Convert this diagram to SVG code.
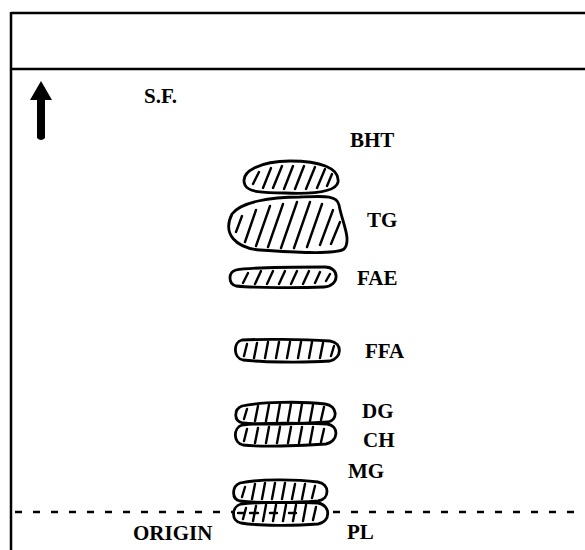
<svg xmlns="http://www.w3.org/2000/svg" width="585" height="550" viewBox="0 0 585 550">
  <style>
    .frame { stroke: #000; stroke-width: 2.5; fill: none; }
    .spot { stroke: #000; stroke-width: 2.8; fill: none; stroke-linejoin: round; }
    .hatch { stroke: #000; stroke-width: 2.4; fill: none; stroke-linecap: round; }
    .lbl { font-family: "Liberation Serif", "Times New Roman", serif; font-weight: bold; font-size: 21px; fill: #000; }
    .origin { stroke: #000; stroke-width: 2.5; stroke-dasharray: 7 11; fill: none; }
  </style>

  <!-- plate frame -->
  <g id="frame">
    <line class="frame" x1="11" y1="13" x2="585" y2="13"/>
    <line class="frame" x1="11" y1="69" x2="585" y2="69"/>
    <line class="frame" x1="11" y1="12" x2="11" y2="550"/>
  </g>

  <!-- solvent front direction -->
  <g id="solvent-front">
    <path d="M41 81 L52 100 L45 100 L45 138 Q41 142 37 138 L37 100 L30 100 Z" fill="#000"/>
    <text class="lbl" x="144" y="103">S.F.</text>
  </g>

  <!-- origin line -->
  <g id="connectors">
    <line class="origin" x1="15" y1="512" x2="233" y2="512"/>
    <line class="origin" x1="333" y1="512" x2="585" y2="512"/>
  </g>

  <g id="BHT">
    <path class="spot" d="M245 185 C239 171 262 161 290 161 C320 161 340 168 338 182 C336 193 310 194 285 193 C263 193 248 192 245 185 Z"/>
    <path class="hatch" d="M253 184 L259 172 M263 188 L271 168 M273 188 L282 166 M284 189 L293 166 M295 189 L304 166 M306 189 L315 167 M317 188 L325 169 M327 186 L332 174"/>
    <text class="lbl" x="350" y="147">BHT</text>
  </g>

  <g id="TG">
    <path class="spot" d="M232 214 C241 202 270 197 300 197 C325 196 337 195 339 205 C342 222 352 240 344 249 C335 255 290 252 260 250 C236 248 222 234 232 214 Z"/>
    <path class="hatch" d="M236 232 L242 216 M245 242 L256 210 M256 246 L270 206 M268 247 L283 204 M281 248 L297 202 M294 248 L310 202 M307 247 L322 204 M320 245 L333 210 M331 244 L340 222"/>
    <text class="lbl" x="367" y="227">TG</text>
  </g>

  <g id="FAE">
    <path class="spot" d="M236 270 C250 267 300 267 325 267 C340 267 340 286 324 287 C300 288 255 288 236 286 C228 284 228 272 236 270 Z"/>
    <path class="hatch" d="M243 283 L248 273 M255 284 L261 271 M267 284 L273 271 M279 284 L285 271 M291 284 L297 271 M303 284 L309 271 M315 283 L320 272 M326 281 L330 274"/>
    <text class="lbl" x="357" y="285">FAE</text>
  </g>

  <g id="FFA">
    <path class="spot" d="M242 340 C260 339 300 339 330 341 C343 343 342 358 330 361 C300 363 260 362 243 360 C233 358 233 342 242 340 Z"/>
    <path class="hatch" d="M244 356 L247 344 M254 358 L257 343 M265 358 L268 342 M276 358 L279 342 M287 358 L290 342 M298 358 L301 342 M309 358 L312 342 M320 358 L323 343 M331 356 L334 346"/>
    <text class="lbl" x="365" y="358">FFA</text>
  </g>

  <g id="DG">
    <path class="spot" d="M242 406 C260 402 300 401 325 404 C338 406 338 420 328 422 C300 424 260 425 243 423 C233 421 234 409 242 406 Z"/>
    <path class="hatch" d="M244 419 L247 409 M255 421 L258 406 M266 421 L269 405 M277 421 L280 404 M288 421 L291 404 M299 421 L302 404 M310 421 L313 405 M321 420 L324 407"/>
    <text class="lbl" x="362" y="418">DG</text>
  </g>

  <g id="CH">
    <path class="spot" d="M242 425 C260 423 300 423 327 424 C340 426 338 442 326 444 C300 446 260 447 243 445 C233 443 233 428 242 425 Z"/>
    <path class="hatch" d="M244 441 L247 429 M255 443 L258 428 M266 443 L269 427 M277 443 L280 427 M288 443 L291 427 M299 443 L302 427 M310 443 L313 427 M321 442 L324 429"/>
    <text class="lbl" x="363" y="447">CH</text>
  </g>

  <g id="MG">
    <path class="spot" d="M240 483 C258 479 295 479 318 482 C330 484 330 499 318 501 C295 503 258 503 240 501 C231 499 232 486 240 483 Z"/>
    <path class="hatch" d="M242 497 L245 487 M252 499 L255 484 M262 499 L265 483 M272 499 L275 483 M282 499 L285 483 M292 499 L295 484 M302 499 L305 484 M312 498 L315 486"/>
    <text class="lbl" x="348" y="478">MG</text>
  </g>

  <g id="PL">
    <path class="spot" d="M241 504 C258 502 300 502 318 503 C331 505 331 522 318 524 C295 526 258 526 241 523 C231 521 231 507 241 504 Z"/>
    <path class="hatch" d="M243 519 L246 508 M253 521 L256 506 M263 521 L266 505 M273 521 L276 505 M283 521 L286 505 M293 521 L296 505 M303 521 L306 505 M313 520 L316 507 M238 513 L244 513 M250 513 L258 513 M270 513 L277 513 M289 513 L296 513"/>
    <text class="lbl" x="347" y="539">PL</text>
  </g>

  <text id="ORIGIN" class="lbl" x="133" y="540">ORIGIN</text>
</svg>
